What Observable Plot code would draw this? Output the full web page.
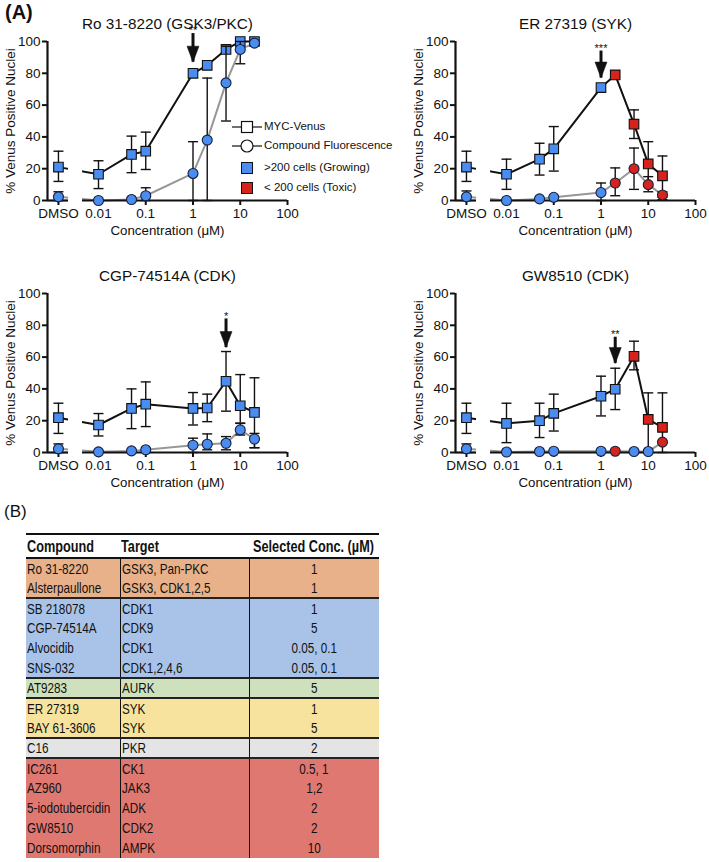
<!DOCTYPE html>
<html><head><meta charset="utf-8">
<script src="https://cdn.jsdelivr.net/npm/d3@7"></script>
<script src="https://cdn.jsdelivr.net/npm/@observablehq/plot@0.6"></script>
<style>
body{margin:0;background:#fff;font-family:"Liberation Sans",Arial,sans-serif;color:#111}
#root{position:relative;width:709px;height:862px;overflow:hidden;background:#fff}
.abs{position:absolute}
.lbl{font-weight:bold;font-size:20px}
.legend{font-size:11.5px;line-height:1}
.legend .row{position:absolute;display:flex;align-items:center;white-space:nowrap}
table.tb{position:absolute;left:26px;top:533px;width:353px;border-collapse:collapse;table-layout:fixed;font-family:"Liberation Sans",Arial,sans-serif;font-size:15px;color:#111}
table.tb th{font-weight:bold;font-size:16.5px;height:22px;padding:0 1px;border-top:2px solid #111;border-bottom:2px solid #111;text-align:left;vertical-align:middle;line-height:20px;white-space:nowrap;overflow:visible}
table.tb th.h3{padding-left:4px}
table.tb tr.b{height:20px}
table.tb td{padding:0 1px;line-height:18px;white-space:nowrap;overflow:visible;vertical-align:middle}
table.tb td.c2,table.tb td.c3{border-left:1px solid #111}
table.tb td.c3{text-align:center}
table.tb tr.first td{border-top:2px solid #222}
.sq{display:inline-block;transform:scaleX(0.78);transform-origin:left center}
.sq.mid{transform-origin:center center}
.sqh{display:inline-block;transform:scaleX(0.77);transform-origin:left center}
</style></head><body><div id="root"></div>
<script>
// ---------- data ----------
const concLabels = ["DMSO","0.01","0.05","0.1","1","2","5","10","20"];
const concValues = [null,0.01,0.05,0.1,1,2,5,10,20]; // null = DMSO control
const xTickValues = [0.01,0.1,1,10,100];
const xTickLabels = ["0.01","0.1","1","10","100"];
const yTickValues = [0,20,40,60,80,100];

const titles = ["Ro 31-8220 (GSK3/PKC)","ER 27319 (SYK)","CGP-74514A (CDK)","GW8510 (CDK)"];

// Ro 31-8220
const venusRo    = [21,16.5,29,31,80,85,95,100,100];
const venusLoRo  = [12,7.5,17.5,19.5,null,null,null,null,null];
const venusHiRo  = [31,25,40.5,43,null,null,null,null,null];
const venusToxRo = [0,0,0,0,0,0,0,0,0];
const fluorRo    = [2.3,0,0.6,3,17,38,74,95,99];
const fluorLoRo  = [0,null,null,0,0,0,50,86,null];
const fluorHiRo  = [5.5,null,null,8,37,77,97,100,null];
const fluorToxRo = [0,0,0,0,0,0,0,0,0];

// ER 27319
const venusEr    = [21,16.5,26,32.5,71,79,48,23,15.5];
const venusLoEr  = [12,7,16,18.5,null,null,39,9,2];
const venusHiEr  = [31,26,36,46.5,null,null,57,37,28];
const venusToxEr = [0,0,0,0,0,1,1,1,1];
const fluorEr    = [2.3,0,1,2,5,11,20,10,3.5];
const fluorLoEr  = [0,null,null,null,0,3,7,5.5,0.5];
const fluorHiEr  = [6,null,null,null,11,20.5,33,15,5.5];
const fluorToxEr = [0,0,0,0,0,1,1,1,1];

// CGP-74514A
const venusCgp    = [21.9,17.3,27.7,30.4,27.7,28,44.8,29.4,25.2];
const venusLoCgp  = [12,10.4,15,16.3,17.3,19.4,26,18.5,3];
const venusHiCgp  = [31,24.5,40,44.4,37.7,36.7,63.5,49,47];
const venusToxCgp = [0,0,0,0,0,0,0,0,0];
const fluorCgp    = [2.3,0.4,1,1.7,4.6,5.2,5.8,14.2,8.5];
const fluorLoCgp  = [0,null,null,null,0,1.7,1.7,11,3];
const fluorHiCgp  = [5.4,null,null,null,9,11.7,10,18.3,12];
const fluorToxCgp = [0,0,0,0,0,0,0,0,0];

// GW8510
const venusGw    = [21.9,18.3,20,24.6,35.4,39.8,60.5,20.8,15.8];
const venusLoGw  = [12,6.2,9.4,13.5,23,27,52,0,0];
const venusHiGw  = [31,31,31,36.7,48,53,70,37.5,37.5];
const venusToxGw = [0,0,0,0,0,0,1,1,1];
const fluorGw    = [2.3,0.3,0.6,0.8,0.8,0.8,0.6,0.6,6.5];
const fluorLoGw  = [0,null,null,null,null,null,null,null,null];
const fluorHiGw  = [5.4,null,null,null,null,null,null,null,null];
const fluorToxGw = [0,0,0,0,0,1,0,0,1];

// significance arrows
const arrowConc = [1,1,5,2];
const arrowTip  = [87,77,66,56];
const arrowTop  = [105,94,84,72.5];
const arrowStars = ["**","***","*","**"];

// legend
const legendLabels = ["MYC-Venus","Compound Fluorescence",">200 cells (Growing)","< 200 cells (Toxic)"];

// table
const tableHeader = ["Compound","Target","Selected Conc. (\u00b5M)"];
const compounds = ["Ro 31-8220","Alsterpaullone","SB 218078","CGP-74514A","Alvocidib","SNS-032","AT9283","ER 27319","BAY 61-3606","C16","IC261","AZ960","5-iodotubercidin","GW8510","Dorsomorphin"];
const targets = ["GSK3, Pan-PKC","GSK3, CDK1,2,5","CDK1","CDK9","CDK1","CDK1,2,4,6","AURK","SYK","SYK","PKR","CK1","JAK3","ADK","CDK2","AMPK"];
const selectedConc = ["1","1","1","5","0.05, 0.1","0.05, 0.1","5","1","5","2","0.5, 1","1,2","2","2","10"];
const rowGroup = [0,0,1,1,1,1,2,3,3,4,5,5,5,5,5];

// ---------- styles / layout ----------
const BLUE = "#4a8cf0", RED = "#d6231c", INK = "#111";
const groupColors = ["#e8b189","#a8c3e7","#cfe1bc","#f7e39d","#e4e4e4","#e07872"];
const dmsoX = 0.00142, xMin = 0.000833, gapA = 0.00232, gapB = 0.00459;

const capSymbol = {draw(ctx,size){const w=Math.sqrt(size/Math.PI);ctx.moveTo(-w,0);ctx.lineTo(w,0);}};
const headSymbol = {draw(ctx,size){const r=Math.sqrt(size/Math.PI);ctx.moveTo(-0.75*r,-2*r);ctx.lineTo(0.75*r,-2*r);ctx.lineTo(0,0);ctx.closePath();}};

function mkRows(v,lo,hi,tox){
  return concValues.map((c,i)=>({x:c==null?dmsoX:c,y:v[i],lo:lo[i],hi:hi[i],tox:tox[i]}));
}

function panel(i, ven, flu){
  const V = mkRows(...ven), F = mkRows(...flu);
  const Ve = V.filter(d=>d.lo!=null), Fe = F.filter(d=>d.lo!=null);
  const arrow = [{x:arrowConc[i],tip:arrowTip[i],top:arrowTop[i],s:arrowStars[i]}];
  const errMarks = (E)=>[
    Plot.ruleX(E,{x:"x",y1:"lo",y2:"hi",stroke:INK,strokeWidth:1.4}),
    Plot.dot(E,{x:"x",y:"lo",symbol:capSymbol,r:5,fill:"none",stroke:INK,strokeWidth:1.4}),
    Plot.dot(E,{x:"x",y:"hi",symbol:capSymbol,r:5,fill:"none",stroke:INK,strokeWidth:1.4})
  ];
  return Plot.plot({
    width:300,height:252,marginLeft:47,marginRight:13,marginTop:41,marginBottom:52,
    style:{fontFamily:"Liberation Sans, Arial, sans-serif",color:INK,overflow:"visible",background:"transparent"},
    x:{type:"log",domain:[xMin,100]},
    y:{domain:[0,100]},
    marks:[
      Plot.line(V,{x:"x",y:"y",stroke:INK,strokeWidth:2}),
      Plot.line(F,{x:"x",y:"y",stroke:"#979797",strokeWidth:2}),
      Plot.rect([0],{x1:gapA,x2:gapB,y1:-1,y2:100,fill:"white"}),
      Plot.ruleY([0],{x1:xMin,x2:gapA,stroke:INK,strokeWidth:2.2}),
      Plot.ruleY([0],{x1:gapB,x2:100,stroke:INK,strokeWidth:2.2}),
      Plot.ruleX([xMin],{y1:0,y2:100,stroke:INK,strokeWidth:2.2}),
      Plot.axisY({ticks:yTickValues,tickSize:5,tickPadding:2,strokeWidth:2,fontSize:13.5,label:null}),
      Plot.axisX({ticks:[dmsoX,...xTickValues],tickFormat:d=>d===dmsoX?concLabels[0]:xTickLabels[xTickValues.indexOf(d)],tickSize:5,tickPadding:3,strokeWidth:2,fontSize:13.5,label:null}),
      ...errMarks(Ve),
      Plot.dot(V,{x:"x",y:"y",symbol:"square",r:5.4,fill:d=>d.tox?RED:BLUE,stroke:INK,strokeWidth:1.1}),
      ...errMarks(Fe),
      Plot.dot(F,{x:"x",y:"y",r:5,fill:d=>d.tox?RED:BLUE,stroke:"#14213d",strokeWidth:1.1}),
      Plot.ruleX(arrow,{x:"x",y1:"tip",y2:"top",stroke:INK,strokeWidth:3}),
      Plot.dot(arrow,{x:"x",y:"tip",symbol:headSymbol,r:8,fill:INK,stroke:INK,strokeWidth:0.5}),
      Plot.text(arrow,{x:"x",y:"top",text:"s",dy:-7,lineAnchor:"top",fontSize:11,fill:INK}),
      Plot.text([titles[i]],{frameAnchor:"top",dy:-23,fontSize:15.3,fill:INK}),
      Plot.text(["Concentration (\u03bcM)"],{frameAnchor:"bottom",dy:34,fontSize:13.3,fill:INK}),
      Plot.text(["% Venus Positive Nuclei"],{frameAnchor:"left",dx:-37,rotate:-90,textAnchor:"middle",fontSize:13.5,fill:INK})
    ]
  });
}

const root = document.getElementById("root");
const specs = [
  [[venusRo,venusLoRo,venusHiRo,venusToxRo],[fluorRo,fluorLoRo,fluorHiRo,fluorToxRo],0,0],
  [[venusEr,venusLoEr,venusHiEr,venusToxEr],[fluorEr,fluorLoEr,fluorHiEr,fluorToxEr],408,0],
  [[venusCgp,venusLoCgp,venusHiCgp,venusToxCgp],[fluorCgp,fluorLoCgp,fluorHiCgp,fluorToxCgp],0,252],
  [[venusGw,venusLoGw,venusHiGw,venusToxGw],[fluorGw,fluorLoGw,fluorHiGw,fluorToxGw],408,252]
];
specs.forEach(([v,f,left,top],i)=>{
  const svg = panel(i,v,f);
  svg.classList.add("abs");
  svg.style.left = left+"px"; svg.style.top = top+"px";
  root.appendChild(svg);
});

// panel labels
function addDiv(cls,text,left,top,extra){
  const d=document.createElement("div");d.className="abs "+cls;d.textContent=text;
  d.style.left=left+"px";d.style.top=top+"px";if(extra)Object.assign(d.style,extra);root.appendChild(d);return d;
}
addDiv("lbl","(A)",5,1);
addDiv("","(B)",4,502,{fontSize:"17px"});

// legend
const lg = document.createElement("div"); lg.className="abs legend"; lg.style.left="0px"; lg.style.top="0px"; root.appendChild(lg);
const swatches = [
  `<svg width="32" height="14"><line x1="1" y1="7" x2="31" y2="7" stroke="#111" stroke-width="1.2"/><rect x="10.5" y="1.5" width="11" height="11" fill="#fff" stroke="#111" stroke-width="1.2"/></svg>`,
  `<svg width="32" height="14"><line x1="1" y1="7" x2="31" y2="7" stroke="#111" stroke-width="1.2"/><circle cx="16" cy="7" r="6" fill="#fff" stroke="#111" stroke-width="1.2"/></svg>`,
  `<svg width="32" height="14"><rect x="10.5" y="1.5" width="11" height="11" fill="${BLUE}" stroke="#111" stroke-width="1"/></svg>`,
  `<svg width="32" height="14"><rect x="10.5" y="1.5" width="11" height="11" fill="${RED}" stroke="#111" stroke-width="1"/></svg>`
];
const legendTop = [120,139,161,181];
legendLabels.forEach((t,i)=>{
  const r=document.createElement("div");r.className="row";
  r.style.left="231px";r.style.top=legendTop[i]+"px";
  r.innerHTML=swatches[i]+`<span style="margin-left:1px">${t}</span>`;
  lg.appendChild(r);
});

// table
const tb=document.createElement("table");tb.className="tb";
const colW=[94,129,130];
let html="<colgroup>"+colW.map(w=>`<col style="width:${w}px">`).join("")+"</colgroup>";
html+="<thead><tr>"+tableHeader.map((h,j)=>`<th class="h${j+1}"><span class="sqh">${h}</span></th>`).join("")+"</tr></thead><tbody>";
compounds.forEach((c,i)=>{
  const first = i>0 && rowGroup[i]!==rowGroup[i-1];
  const bg = groupColors[rowGroup[i]];
  html+=`<tr class="b${first?' first':''}" style="background:${bg}"><td class="c1"><span class="sq">${c}</span></td><td class="c2"><span class="sq">${targets[i]}</span></td><td class="c3"><span class="sq mid">${selectedConc[i]}</span></td></tr>`;
});
html+="</tbody>";
tb.innerHTML=html;
root.appendChild(tb);
</script>
</body></html>
